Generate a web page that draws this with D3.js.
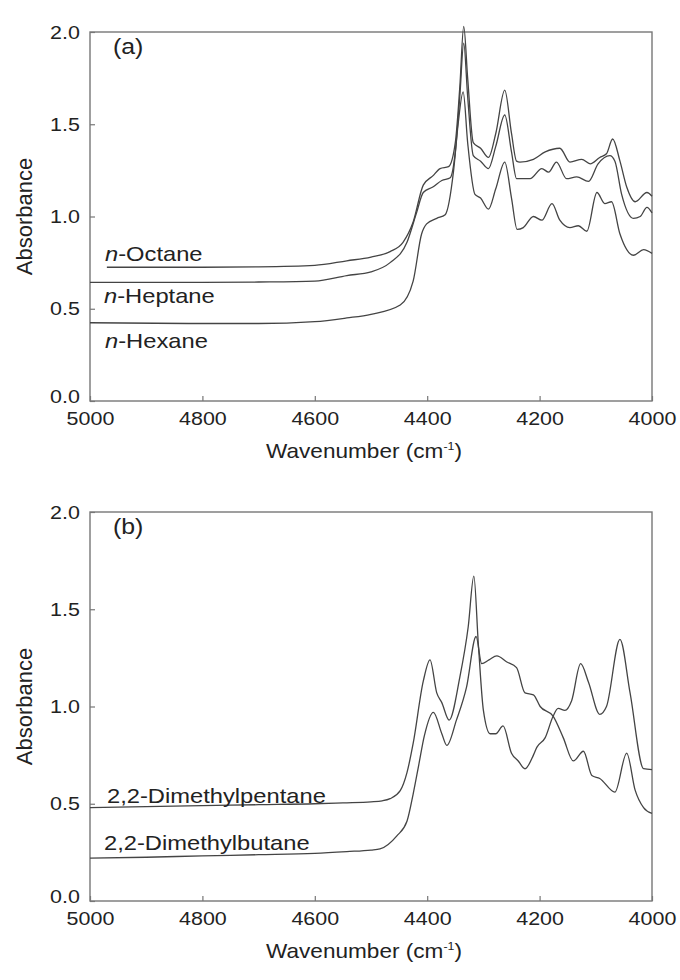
<!DOCTYPE html>
<html>
<head>
<meta charset="utf-8">
<script src="https://cdn.jsdelivr.net/npm/d3@7"></script>
<style>
  body { margin: 0; background: #fff; }
  svg { display: block; font-family: "Liberation Sans", Arial, sans-serif; }
  .axis text { fill: #222; }
</style>
</head>
<body>
<div id="chart"></div>
<script>
// x ticks and y ticks
const xTicks = [5000, 4800, 4600, 4400, 4200, 4000];
const yTicks = [0.0, 0.5, 1.0, 1.5, 2.0];

// panel (a) : n-alkanes
const octaneWn = [4970, 4800, 4700, 4600, 4543, 4500, 4466, 4443, 4425, 4407, 4390, 4377, 4362, 4350, 4342, 4335, 4328, 4318, 4305, 4291, 4278, 4262, 4250, 4241, 4235, 4211, 4190, 4164, 4146, 4125, 4110, 4093, 4081, 4070, 4057, 4045, 4030, 4009, 4000];
const octaneAbs = [0.725, 0.725, 0.727, 0.735, 0.76, 0.78, 0.81, 0.86, 0.97, 1.17, 1.22, 1.26, 1.27, 1.40, 1.70, 2.03, 1.75, 1.40, 1.37, 1.32, 1.45, 1.685, 1.45, 1.30, 1.295, 1.31, 1.35, 1.37, 1.295, 1.31, 1.285, 1.32, 1.34, 1.42, 1.30, 1.16, 1.08, 1.13, 1.11];

const heptaneWn = [5000, 4800, 4700, 4600, 4543, 4500, 4466, 4436, 4419, 4407, 4390, 4374, 4359, 4350, 4342, 4335, 4328, 4318, 4305, 4291, 4278, 4262, 4250, 4241, 4217, 4196, 4184, 4170, 4152, 4134, 4113, 4096, 4075, 4066, 4054, 4033, 4021, 4009, 4000];
const heptaneAbs = [0.643, 0.643, 0.645, 0.65, 0.68, 0.70, 0.75, 0.86, 1.02, 1.13, 1.16, 1.195, 1.21, 1.35, 1.65, 1.94, 1.65, 1.33, 1.30, 1.26, 1.38, 1.55, 1.35, 1.205, 1.205, 1.26, 1.24, 1.295, 1.205, 1.215, 1.19, 1.285, 1.33, 1.30, 1.12, 0.99, 1.0, 1.05, 1.02];

const hexaneWn = [5000, 4800, 4700, 4600, 4543, 4500, 4448, 4425, 4410, 4401, 4383, 4368, 4353, 4345, 4336, 4328, 4315, 4305, 4291, 4278, 4262, 4250, 4240, 4229, 4211, 4196, 4178, 4164, 4146, 4131, 4116, 4098, 4084, 4072, 4057, 4033, 4015, 4000];
const hexaneAbs = [0.424, 0.42, 0.42, 0.43, 0.45, 0.47, 0.52, 0.65, 0.905, 0.96, 0.99, 1.01, 1.25, 1.50, 1.675, 1.40, 1.12, 1.10, 1.04, 1.15, 1.295, 1.10, 0.93, 0.94, 1.0, 0.98, 1.07, 0.98, 0.94, 0.95, 0.92, 1.13, 1.07, 1.08, 0.905, 0.79, 0.82, 0.80];

// panel (b) : branched alkanes
const pentaneWn = [5000, 4900, 4800, 4700, 4600, 4550, 4500, 4480, 4466, 4448, 4436, 4425, 4407, 4395, 4383, 4374, 4361, 4342, 4327, 4317, 4309, 4300, 4288, 4278, 4265, 4250, 4238, 4226, 4211, 4205, 4190, 4176, 4167, 4155, 4143, 4127, 4113, 4093, 4081, 4057, 4039, 4015, 4000];
const pentaneAbs = [0.48, 0.485, 0.49, 0.495, 0.50, 0.505, 0.51, 0.515, 0.526, 0.567, 0.66, 0.81, 1.13, 1.24, 1.07, 1.02, 0.93, 1.15, 1.41, 1.67, 1.32, 0.98, 0.86, 0.86, 0.90, 0.76, 0.72, 0.68, 0.75, 0.79, 0.84, 0.95, 0.99, 0.98, 1.03, 1.22, 1.125, 0.96, 1.0, 1.345, 1.07, 0.68, 0.675];

const butaneWn = [5000, 4900, 4800, 4700, 4600, 4543, 4500, 4484, 4454, 4436, 4425, 4415, 4405, 4389, 4374, 4365, 4348, 4330, 4313, 4303, 4290, 4276, 4259, 4241, 4226, 4211, 4199, 4176, 4158, 4140, 4122, 4107, 4093, 4066, 4045, 4030, 4015, 4000];
const butaneAbs = [0.22, 0.225, 0.232, 0.238, 0.245, 0.254, 0.262, 0.268, 0.335, 0.41, 0.55, 0.70, 0.85, 0.97, 0.86, 0.80, 0.93, 1.10, 1.36, 1.22, 1.24, 1.26, 1.23, 1.20, 1.07, 1.06, 1.0, 0.95, 0.84, 0.72, 0.77, 0.645, 0.63, 0.56, 0.76, 0.57, 0.48, 0.45];

const W = 680, H = 980;
const STRETCH = 1.13; // text in the figure is a bit wide

const svg = d3.select("#chart").append("svg")
    .attr("width", W)
    .attr("height", H);

function zip(wn, ab) {
    return wn.map((w, i) => ({ w: w, a: ab[i] }));
}

// stretched text helper
function label(g, x, y, size, anchor) {
    return g.append("g")
        .attr("transform", `translate(${x},${y}) scale(${STRETCH},1)`)
        .append("text")
        .attr("text-anchor", anchor)
        .style("font-size", size + "px")
        .attr("fill", "#222");
}

function drawPanel(top, bottom, tag, series) {
    const x = d3.scaleLinear().domain([5000, 4000]).range([90, 652]);
    const y = d3.scaleLinear().domain([0, 2]).range([bottom, top]);
    const g = svg.append("g");

    // frame
    g.append("rect")
        .attr("x", x(5000)).attr("y", y(2))
        .attr("width", x(4000) - x(5000))
        .attr("height", y(0) - y(2))
        .attr("fill", "none")
        .attr("stroke", "#777")
        .attr("stroke-width", 1.4);

    // axes, ticks pointing inward
    const xAxis = g.append("g")
        .attr("class", "axis")
        .attr("transform", `translate(0,${bottom})`)
        .call(d3.axisBottom(x).tickValues(xTicks).tickFormat(d3.format("d")).tickSizeInner(-5).tickSizeOuter(0).tickPadding(11));
    const yAxis = g.append("g")
        .attr("class", "axis")
        .call(d3.axisLeft(y).tickValues(yTicks).tickFormat(d3.format(".1f")).tickSizeInner(-5).tickSizeOuter(0).tickPadding(9))
        .attr("transform", `translate(${x(5000)},0)`);
    [xAxis, yAxis].forEach(a => {
        a.select(".domain").remove();
        a.selectAll("line").attr("stroke", "#777").attr("stroke-width", 1.2);
        a.selectAll("text")
            .style("font-size", "19px")
            .attr("transform", `scale(${STRETCH},1)`);
    });
    // keep the 0.0 label clear of the first x label
    yAxis.selectAll(".tick text").filter(d => d === 0).attr("dy", "0.1em");

    // axis titles
    const xt = label(g, 364, bottom + 57, 20, "middle");
    xt.append("tspan").text("Wavenumber (cm");
    xt.append("tspan").text("-1").style("font-size", "11px").attr("dy", -8);
    xt.append("tspan").text(")").attr("dy", 8);

    svg.append("text")
        .attr("transform", `translate(32,${(top + bottom) / 2}) rotate(-90)`)
        .attr("text-anchor", "middle")
        .style("font-size", "22px")
        .attr("fill", "#222")
        .text("Absorbance");

    label(g, 113, top + 22, 22, "start").text(tag);

    // spectra
    const line = d3.line()
        .x(d => x(d.w))
        .y(d => y(d.a))
        .curve(d3.curveMonotoneX);

    series.forEach(s => {
        g.append("path")
            .datum(zip(s.wn, s.ab))
            .attr("fill", "none")
            .attr("stroke", "#444")
            .attr("stroke-width", 1.3)
            .attr("d", line);

        const t = label(g, s.lx, y(s.ab[0]) + s.dy, 21, "start");
        if (s.italic) {
            t.append("tspan").style("font-style", "italic").text(s.italic);
        }
        t.append("tspan").text(s.name);
    });
}

drawPanel(32, 401, "(a)", [
    { wn: octaneWn, ab: octaneAbs, italic: "n", name: "-Octane", lx: 105, dy: -6 },
    { wn: heptaneWn, ab: heptaneAbs, italic: "n", name: "-Heptane", lx: 104, dy: 21 },
    { wn: hexaneWn, ab: hexaneAbs, italic: "n", name: "-Hexane", lx: 105, dy: 25 }
]);

drawPanel(512, 901, "(b)", [
    { wn: pentaneWn, ab: pentaneAbs, italic: null, name: "2,2-Dimethylpentane", lx: 107, dy: -5 },
    { wn: butaneWn, ab: butaneAbs, italic: null, name: "2,2-Dimethylbutane", lx: 104, dy: -8 }
]);
</script>
</body>
</html>
